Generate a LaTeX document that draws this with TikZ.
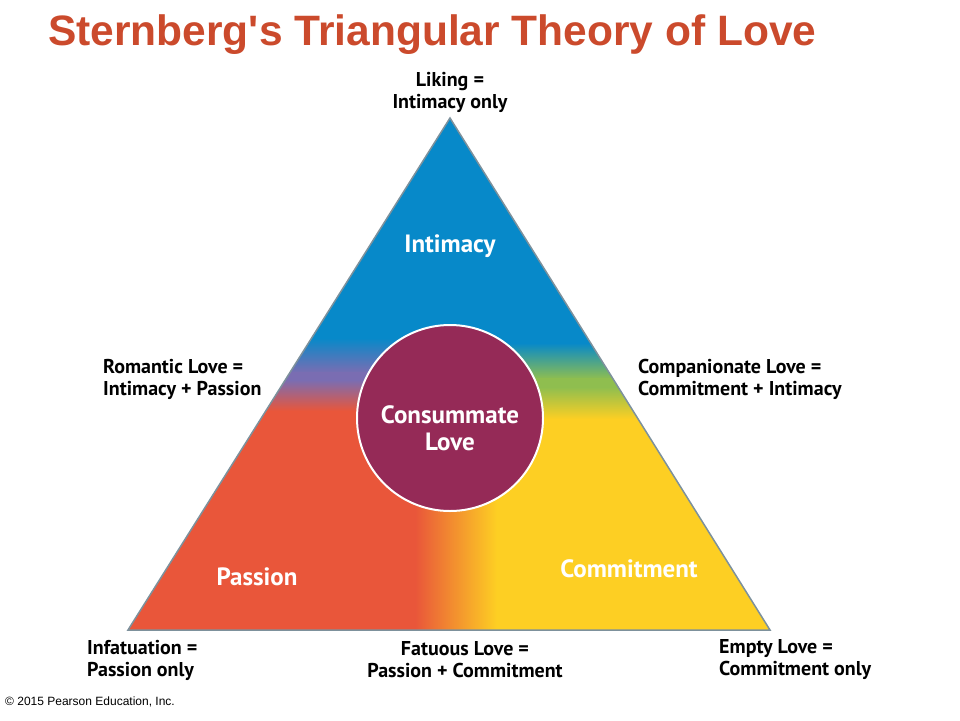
\documentclass[tikz,border=0pt]{standalone}
\usepackage{fontspec}
\setmainfont{PT Sans}
\newfontfamily\titlefont{Liberation Sans}
\definecolor{titlered}{HTML}{CB4A2C}
\definecolor{loveblue}{HTML}{0789C9}
\definecolor{lovered}{HTML}{E9563A}
\definecolor{loveyellow}{HTML}{FDCF23}
\definecolor{lovepurple}{HTML}{7A6DB2}
\definecolor{lovegreen}{HTML}{8FBE4F}
\definecolor{loveorange}{HTML}{F28B30}
\definecolor{lovewine}{HTML}{952A57}
\definecolor{edgegray}{HTML}{7D919C}
\begin{document}
\begin{tikzpicture}[x=1pt,y=-1pt,
  lbl/.style={font=\fontsize{20}{22}\selectfont\bfseries, align=left, inner sep=0pt},
  inlbl/.style={font=\fontsize{25}{27}\selectfont\bfseries, text=white, align=center, inner sep=0pt}]
\useasboundingbox (0,0) rectangle (960,720);
\node[anchor=west, inner sep=0pt, text=titlered, font=\titlefont\fontsize{42.5}{42.5}\selectfont\bfseries] (title) at (48,35) {Sternberg's Triangular Theory of Love};
% triangle corners
\coordinate (top) at (450,118);
\coordinate (bl) at (128,630);
\coordinate (br) at (770,630);
\begin{scope}
\clip (top) -- (bl) -- (br) -- cycle;
\fill[loveblue] (100,100) rectangle (800,640);
\fill[lovered] (100,410) rectangle (460,640);
\fill[loveyellow] (460,418) rectangle (800,640);
% blends between the three parts
\shade[top color=loveblue, bottom color=lovepurple] (100,338) rectangle (460,373);
\fill[lovepurple] (100,372) rectangle (460,381);
\shade[top color=lovepurple, bottom color=lovered] (100,380) rectangle (460,411);
\shade[top color=loveblue, bottom color=lovegreen] (460,343) rectangle (800,379);
\fill[lovegreen] (460,378) rectangle (800,388);
\shade[top color=lovegreen, bottom color=loveyellow] (460,387) rectangle (800,419);
\shade[left color=lovered, middle color=loveorange, right color=loveyellow] (415,400) rectangle (497,640);
\end{scope}
\draw[edgegray, line width=1.5pt] (top) -- (bl) -- (br) -- cycle;
\node[circle, minimum size=186pt, fill=lovewine, draw=white, line width=2pt] (consum) at (450,418) {};
% inside labels
\node[inlbl] (consumtxt) at (450,428) {Consummate\\Love};
\node[inlbl] (intimacy) at (450,246) {Intimacy};
\node[inlbl] (passion) at (257,577) {Passion};
\node[inlbl] (commit) at (629,569) {Commitment};
% outside labels
\node[lbl, align=center] (liking) at (450,92) {Liking =\\Intimacy only};
\node[lbl, anchor=west] (romantic) at (103,379) {Romantic Love =\\Intimacy + Passion};
\node[lbl, anchor=west] (companion) at (638,379) {Companionate Love =\\Commitment + Intimacy};
\node[lbl, anchor=west] (infat) at (87,660) {Infatuation =\\Passion only};
\node[lbl, align=center] (fatuous) at (465,660) {Fatuous Love =\\Passion + Commitment};
\node[lbl, anchor=west] (empty) at (719,660) {Empty Love =\\Commitment only};
\node[anchor=west, inner sep=0pt, font=\titlefont\fontsize{12}{12}\selectfont] (copy) at (5,702) {© 2015 Pearson Education, Inc.};
\end{tikzpicture}
\end{document}
